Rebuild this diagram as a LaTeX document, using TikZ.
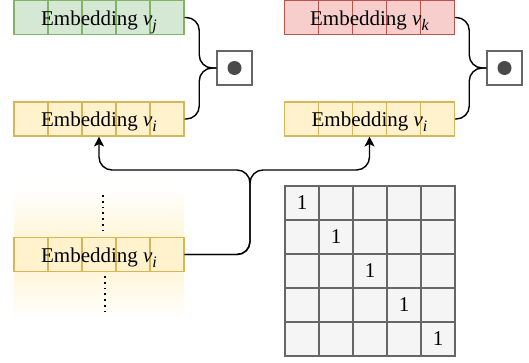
\documentclass[tikz,border=0pt]{standalone}
\usepackage{fontspec}
\setmainfont{Liberation Serif}
\usetikzlibrary{arrows.meta}
\definecolor{greenfill}{HTML}{D5E8D4}
\definecolor{greenline}{HTML}{82B366}
\definecolor{redfill}{HTML}{F8CECC}
\definecolor{redline}{HTML}{B85450}
\definecolor{yellowfill}{HTML}{FFF2CC}
\definecolor{yellowline}{HTML}{D6B656}
\definecolor{gridfill}{HTML}{F5F5F5}
\definecolor{gridline}{HTML}{666666}
\definecolor{dotgray}{HTML}{4A4A4A}
\newcommand{\embtext}[1]{Embedding \textit{v}\raisebox{-5pt}{\fontsize{16}{16}\selectfont\textit{#1}}}

\begin{document}
\begin{tikzpicture}[x=1pt,y=-1pt,
	> = {Stealth[length=10pt,width=10pt,inset=2.5pt]}, % arrow head style
	every node/.style={font=\fontsize{21}{24}\selectfont},
	emb/.style={draw=#1line,fill=#1fill,line width=1.1pt,
		minimum width=170pt,minimum height=34pt,inner sep=0pt,
		text height=15pt,text depth=0pt,
		path picture={\foreach \k in {1,...,4}
			{\draw[#1line,line width=1.1pt] ([xshift=\k*34pt]path picture bounding box.north west)
				-- ([xshift=\k*34pt]path picture bounding box.south west);}}},
	dotbox/.style={draw=gridline,fill=white,line width=1.5pt,
		minimum width=35pt,minimum height=34pt,inner sep=0pt},
	cell/.style={draw=gridline,fill=gridfill,line width=1.1pt,
		minimum size=34pt,inner sep=0pt},
	link/.style={line width=1.4pt,rounded corners=13pt}]
	\useasboundingbox (0,0) rectangle (529,362);

	% fading stack behind the lower embedding
	\shade[top color=white,bottom color=white,middle color=yellowfill]
		(14,188) rectangle (184,320);
	\draw[line width=1.8pt,dash pattern=on 1.8pt off 4pt] (103,195) -- (103,231);
	\draw[line width=1.8pt,dash pattern=on 1.8pt off 4pt] (105,276) -- (105,312);

	\node[emb=green]  (vj)  at (99,17.5)    {\embtext{j}};
	\node[emb=yellow] (viL) at (99,119)     {\embtext{i}};
	\node[emb=red]    (vk)  at (369.5,17.5) {\embtext{k}};
	\node[emb=yellow] (viR) at (369.5,119)  {\embtext{i}};
	\node[emb=yellow] (vi)  at (99,254.5)   {\embtext{i}};

	\node[dotbox] (dotL) at (234.5,68) {};
	\node[dotbox] (dotR) at (504.5,68) {};
	\fill[dotgray] (dotL.center) circle (7pt);
	\fill[dotgray] (dotR.center) circle (7pt);

	% braces into the products
	\draw[link] (vj.east)  -| ([xshift=-17pt]dotL.west) -- (dotL.west);
	\draw[link] (viL.east) -| ([xshift=-17pt]dotL.west) -- (dotL.west);
	\draw[link] (vk.east)  -| ([xshift=-17pt]dotR.west) -- (dotR.west);
	\draw[link] (viR.east) -| ([xshift=-17pt]dotR.west) -- (dotR.west);

	% copy of the lower embedding
	\coordinate (split) at (250,170);
	\draw[link,->] (vi.east) -| (split) -| (viL.south);
	\draw[link,->] (vi.east) -| (split) -| (viR.south);

	% identity matrix
	\foreach \r in {1,...,5}
		\foreach \c in {1,...,5}
			\node[cell] (m\r\c) at (285+34*\c-17,186+34*\r-17) {\ifnum\r=\c\relax 1\fi};
\end{tikzpicture}
\end{document}
